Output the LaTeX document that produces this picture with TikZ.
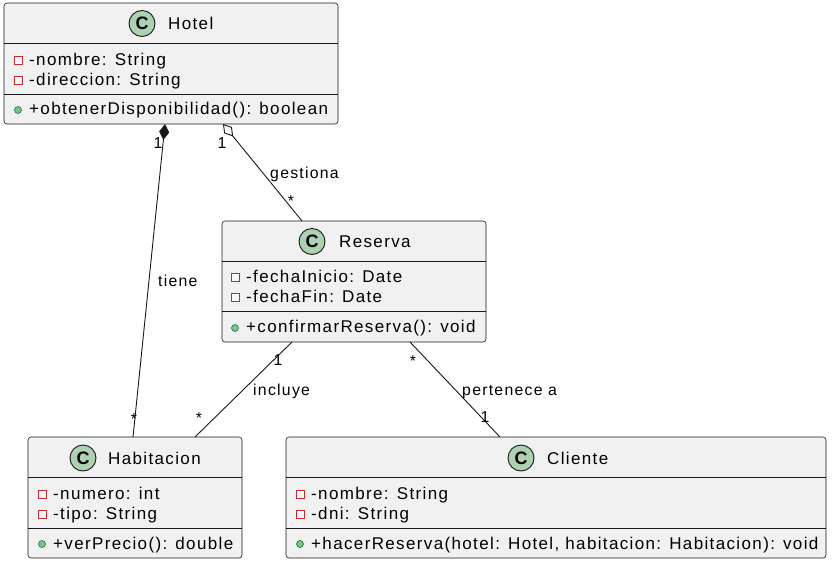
\documentclass[tikz,border=0pt]{standalone}
\usepackage{fontspec}
\setmainfont{Liberation Sans}
\newfontfamily\umlfont[LetterSpace=8]{Liberation Sans}
\usetikzlibrary{arrows.meta}
\definecolor{boxfill}{HTML}{F1F1F1}
\definecolor{boxline}{HTML}{181818}
\definecolor{cfill}{HTML}{ADD1B2}
\definecolor{privred}{HTML}{C82930}
\definecolor{pubfill}{HTML}{84BE84}
\definecolor{publine}{HTML}{038048}
\tikzset{
  x=1pt,y=-1pt,
  classbox/.style={draw=boxline, fill=boxfill, line width=0.6pt, rounded corners=3pt, anchor=north west, inner sep=0pt, outer sep=0pt},
  sepline/.style={draw=boxline, line width=0.6pt},
  cicon/.style={circle, draw=boxline, fill=cfill, line width=0.9pt, minimum size=26pt, inner sep=0pt, font=\bfseries\fontsize{18}{18}\selectfont},
  title/.style={anchor=base west, inner sep=0pt, font=\umlfont\fontsize{17}{18}\selectfont},
  member/.style={anchor=base west, inner sep=0pt, font=\umlfont\fontsize{17}{18}\selectfont},
  priv/.style={rectangle, draw=privred, fill=white!60!boxfill, line width=0.8pt, minimum size=8pt, inner sep=0pt},
  pub/.style={circle, draw=publine, fill=pubfill, line width=0.6pt, minimum size=7pt, inner sep=0pt},
  conn/.style={draw=boxline, line width=0.9pt},
  lbl/.style={inner sep=0pt, anchor=base west, font=\umlfont\fontsize{15.8}{17}\selectfont},
  mult/.style={inner sep=0pt, anchor=base, font=\umlfont\fontsize{15.8}{17}\selectfont},
}
\begin{document}
\begin{tikzpicture}
\useasboundingbox (0,0) rectangle (832,562);

% ---------- Hotel ----------
\node[classbox, minimum width=334pt, minimum height=121pt] (hotel) at (4,3) {};
\draw[sepline] (hotel.west |- 0,43) -- (hotel.east |- 0,43);
\draw[sepline] (hotel.west |- 0,94) -- (hotel.east |- 0,94);
\node[cicon] (hotelC) at (142,23.5) {C};
\node[title] (hotelT) at (168,29) {Hotel};
\node[priv] (hp1) at (18,60) {};
\node[member] (ha1) at (29,65) {-nombre: String};
\node[priv] (hp2) at (18,80) {};
\node[member] (ha2) at (29,85) {-direccion: String};
\node[pub] (hm1p) at (18,110) {};
\node[member] (hm1) at (29,114) {+obtenerDisponibilidad(): boolean};

% ---------- Reserva ----------
\node[classbox, minimum width=264pt, minimum height=121pt] (res) at (222,221) {};
\draw[sepline] (res.west |- 0,261) -- (res.east |- 0,261);
\draw[sepline] (res.west |- 0,311) -- (res.east |- 0,311);
\node[cicon] (resC) at (312,241.5) {C};
\node[title] (resT) at (339,247) {Reserva};
\node[priv] (rp1) at (235,277) {};
\node[member] (ra1) at (246,282) {-fechaInicio: Date};
\node[priv] (rp2) at (235,297) {};
\node[member] (ra2) at (246,302) {-fechaFin: Date};
\node[pub] (rm1p) at (235,328) {};
\node[member] (rm1) at (246,332) {+confirmarReserva(): void};

% ---------- Habitacion ----------
\node[classbox, minimum width=214pt, minimum height=121pt] (hab) at (28,437) {};
\draw[sepline] (hab.west |- 0,477) -- (hab.east |- 0,477);
\draw[sepline] (hab.west |- 0,528) -- (hab.east |- 0,528);
\node[cicon] (habC) at (83,458) {C};
\node[title] (habT) at (108,464) {Habitacion};
\node[priv] (bp1) at (42,494) {};
\node[member] (ba1) at (53,499) {-numero: int};
\node[priv] (bp2) at (42,514) {};
\node[member] (ba2) at (53,519) {-tipo: String};
\node[pub] (bm1p) at (42,544) {};
\node[member] (bm1) at (53,549) {+verPrecio(): double};

% ---------- Cliente ----------
\node[classbox, minimum width=540pt, minimum height=121pt] (cli) at (286,437) {};
\draw[sepline] (cli.west |- 0,477) -- (cli.east |- 0,477);
\draw[sepline] (cli.west |- 0,528) -- (cli.east |- 0,528);
\node[cicon] (cliC) at (521,458) {C};
\node[title] (cliT) at (547,464) {Cliente};
\node[priv] (cp1) at (300,494) {};
\node[member] (ca1) at (311,499) {-nombre: String};
\node[priv] (cp2) at (300,514) {};
\node[member] (ca2) at (311,519) {-dni: String};
\node[pub] (cm1p) at (300,544) {};
\node[member] (cm1) at (311,549) {+hacerReserva(hotel: Hotel, habitacion: Habitacion): void};

% ---------- Connectors ----------
\draw[conn, -{Diamond[length=16pt,width=10pt]}] ([xshift=105pt]hab.north west) -- ([xshift=161pt]hotel.south west);
\draw[conn, -{Diamond[open,fill=white,length=16pt,width=10pt]}] ([xshift=80pt]res.north west) -- ([xshift=219pt]hotel.south west);
\draw[conn] ([xshift=70pt]res.south west) -- ([xshift=167pt]hab.north west);
\draw[conn] ([xshift=188pt]res.south west) -- ([xshift=214pt]cli.north west);

% ---------- Labels ----------
\node[mult] (m1) at (158,148.5) {1};
\node[mult] (m2) at (222,148.5) {1};
\node[lbl] (l1) at (270,178.5) {gestiona};
\node[mult] (m3) at (291,206) {*};
\node[lbl] (l2) at (158,286.5) {tiene};
\node[mult] (m4) at (134,424) {*};
\node[mult] (m5) at (278,365.5) {1};
\node[lbl] (l3) at (253,395.5) {incluye};
\node[mult] (m6) at (199,423) {*};
\node[mult] (m7) at (413,366) {*};
\node[lbl] (l4) at (462,395.5) {pertenece a};
\node[mult] (m8) at (485,422.5) {1};
\end{tikzpicture}
\end{document}
